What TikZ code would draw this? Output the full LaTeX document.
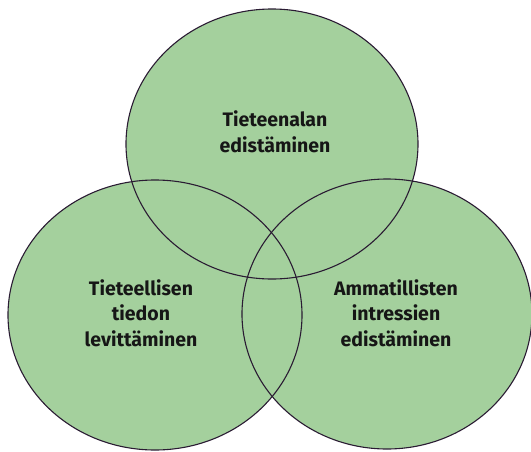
\documentclass[tikz,border=0pt]{standalone}
\usepackage{fontspec}
\setmainfont{Fira Sans}
\definecolor{vennfill}{HTML}{A4D09D}
\definecolor{vennline}{HTML}{2A1B33}
\definecolor{venntext}{HTML}{161616}
\begin{document}
\begin{tikzpicture}[x=1pt,y=-1pt,
  vennarea/.style={fill=vennfill},
  vennedge/.style={draw=vennline,line width=1.1pt},
  venlabel/.style={align=center,text=venntext,font=\bfseries\fontsize{19.5}{25.5}\selectfont,inner sep=0pt}]
\useasboundingbox (0,0) rectangle (531,451);
\coordinate (ct) at (272,144);
\coordinate (cl) at (155,315);
\coordinate (cr) at (387,314);
\fill[vennarea] (ct) ellipse [x radius=146,y radius=135];
\fill[vennarea] (cl) ellipse [x radius=147,y radius=135];
\fill[vennarea] (cr) ellipse [x radius=145,y radius=135];
\draw[vennedge] (ct) ellipse [x radius=146,y radius=135];
\draw[vennedge] (cl) ellipse [x radius=147,y radius=135];
\draw[vennedge] (cr) ellipse [x radius=145,y radius=135];
\node[venlabel] (tt) at (275,132) {Tieteenalan\\edistäminen};
\node[venlabel] (tl) at (141,313) {Tieteellisen\\tiedon\\levittäminen};
\node[venlabel] (tr) at (396,313) {Ammatillisten\\intressien\\edistäminen};
\end{tikzpicture}
\end{document}
